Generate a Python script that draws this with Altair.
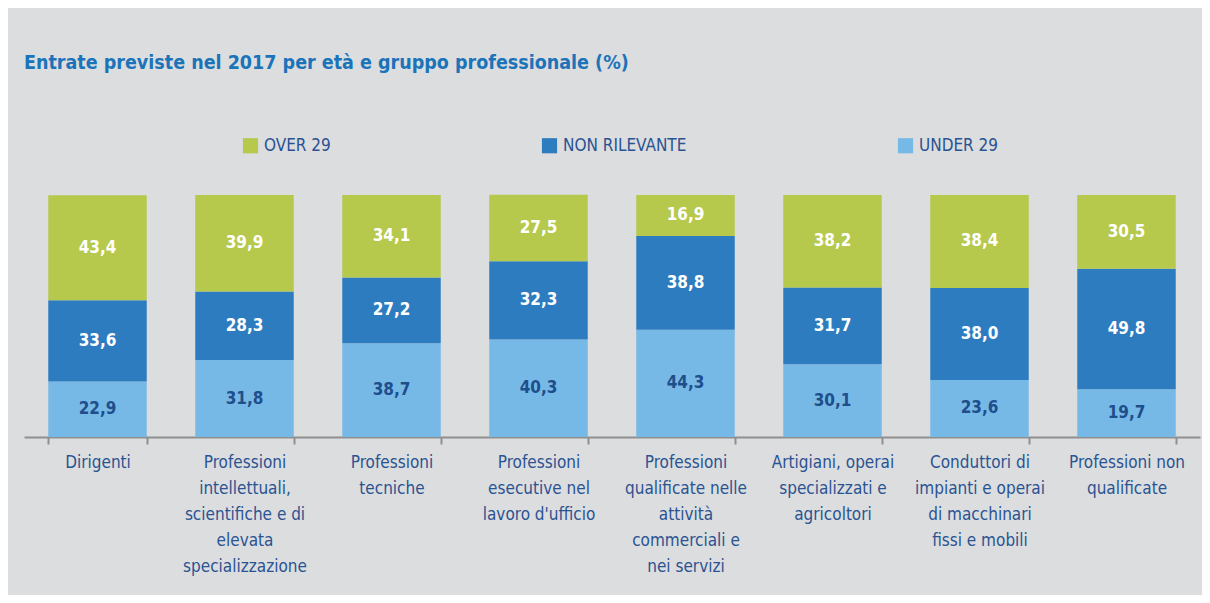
import altair as alt
import pandas as pd

categories = [
    "Dirigenti",
    "Professioni|intellettuali,|scientifiche e di|elevata|specializzazione",
    "Professioni|tecniche",
    "Professioni|esecutive nel|lavoro d'ufficio",
    "Professioni|qualificate nelle|attività|commerciali e|nei servizi",
    "Artigiani, operai|specializzati e|agricoltori",
    "Conduttori di|impianti e operai|di macchinari|fissi e mobili",
    "Professioni non|qualificate",
]
series = ["OVER 29", "NON RILEVANTE", "UNDER 29"]
over29 = [43.4, 39.9, 34.1, 27.5, 16.9, 38.2, 38.4, 30.5]
non_rilevante = [33.6, 28.3, 27.2, 32.3, 38.8, 31.7, 38.0, 49.8]
under29 = [22.9, 31.8, 38.7, 40.3, 44.3, 30.1, 23.6, 19.7]
colors = ["#b6c94c", "#2e7cc0", "#77b9e6"]

rows = []
for i, c in enumerate(categories):
    rows.append({"cat": c, "serie": "UNDER 29", "val": under29[i], "ord": 0})
    rows.append({"cat": c, "serie": "NON RILEVANTE", "val": non_rilevante[i], "ord": 1})
    rows.append({"cat": c, "serie": "OVER 29", "val": over29[i], "ord": 2})
df = pd.DataFrame(rows)

FONT = "Liberation Sans Narrow, DejaVu Sans Condensed, Arial Narrow, sans-serif"
DARK = "#2a5392"

base = alt.Chart(df).transform_stack(
    stack="val", groupby=["cat"], sort=[alt.SortField("ord", order="ascending")],
    as_=["y0", "y1"]
).transform_calculate(
    mid="(datum.y0 + datum.y1) / 2",
    lab="replace(format(datum.val, '.1f'), '.', ',')",
)

xenc = alt.X(
    "cat:N", sort=categories, title=None,
    scale=alt.Scale(paddingInner=0.33, paddingOuter=0.165),
    axis=alt.Axis(
        labelExpr="split(datum.label, '|')", labelAngle=0,
        labelFont=FONT, labelFontSize=17, labelColor=DARK, labelLineHeight=26,
        labelPadding=10, labelBaseline="top",
        domainColor="#8f8f8f", domainWidth=2, tickColor="#8f8f8f", tickWidth=2,
        tickSize=7, tickBand="extent", labelLimit=200,
    ),
)

bars = base.mark_bar().encode(
    x=xenc,
    y=alt.Y("y0:Q", scale=alt.Scale(domain=[0, 100]), axis=None),
    y2="y1:Q",
    color=alt.Color(
        "serie:N", scale=alt.Scale(domain=series, range=colors), title=None,
        legend=alt.Legend(
            orient="none", legendX=218, legendY=-58, direction="horizontal",
            symbolType="square", symbolSize=230, symbolStrokeWidth=0, symbolOpacity=1,
            labelFont=FONT, labelFontSize=17, labelColor=DARK, labelOffset=5,
            columnPadding=210,
        ),
    ),
)

texts = base.mark_text(font=FONT, fontSize=17, fontWeight="bold").encode(
    x=alt.X("cat:N", sort=categories),
    y="mid:Q",
    text="lab:N",
    color=alt.condition(alt.datum.ord == 0, alt.value("#1f4e8c"), alt.value("white")),
)

chart = alt.layer(bars, texts).properties(
    width=1176, height=242,
    padding={"left": 16, "top": 187, "right": 2, "bottom": 158},
    autosize=alt.AutoSizeParams(type="none"),
    background="#dcdddf",
    title=alt.Title(
        "Entrate previste nel 2017 per età e gruppo professionale (%)",
        anchor="start", frame="group", font=FONT, fontSize=19.5, fontWeight="bold",
        color="#1b73b9", orient="top", offset=64,
    ),
).configure_view(stroke=None)

chart.save("out.html", embed_options={"renderer": "svg", "actions": False})
